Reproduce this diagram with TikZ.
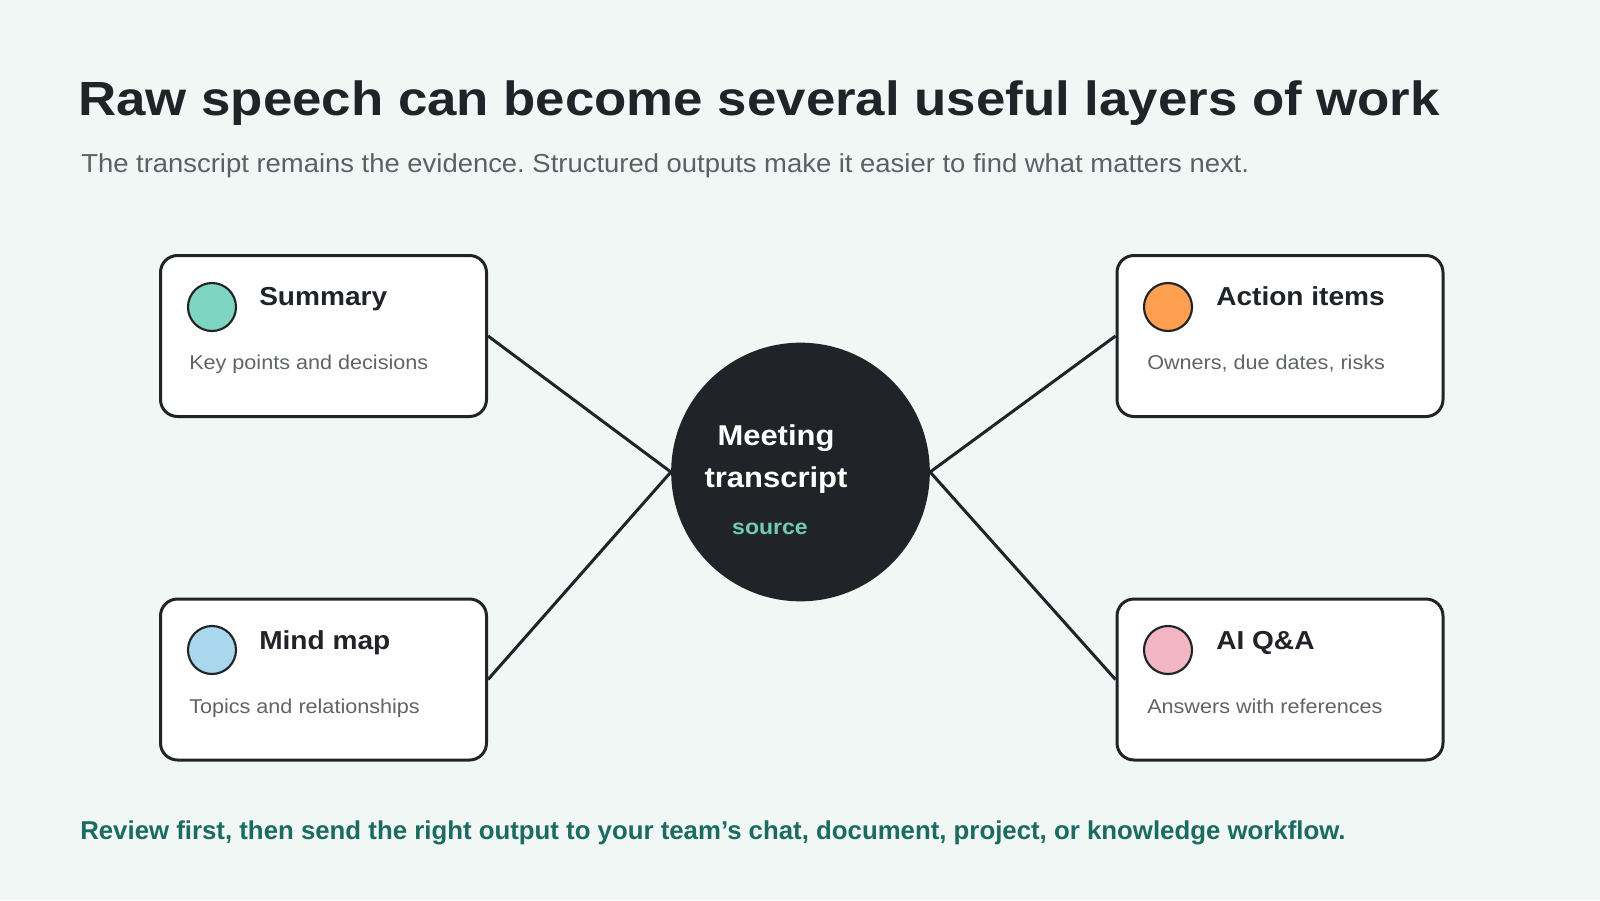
\documentclass[tikz,border=0pt]{standalone}
\usepackage{fontspec}
\setmainfont{Liberation Sans}[FakeStretch=1.08]
\newfontfamily\headfont{Liberation Sans}[FakeStretch=1.1]
\newfontfamily\subfont{Liberation Sans}[FakeStretch=1.055]
\newfontfamily\footfont{Liberation Sans}
\frenchspacing
\definecolor{bgc}{HTML}{F1F7F4}
\definecolor{ink}{HTML}{202428}
\definecolor{subgrey}{HTML}{5A6166}
\definecolor{descgrey}{HTML}{5F6468}
\definecolor{deepteal}{HTML}{1B6B60}
\definecolor{srcteal}{HTML}{70CCB2}
\definecolor{dotteal}{HTML}{7DD5C2}
\definecolor{dotorange}{HTML}{FF9F50}
\definecolor{dotblue}{HTML}{A9D8EE}
\definecolor{dotpink}{HTML}{F2B6C4}

\begin{document}
\begin{tikzpicture}[x=0.75pt, y=-0.75pt,
    card/.style={draw=ink, line width=2.25pt, fill=white, rounded corners=12.75pt, minimum width=244.5pt, minimum height=120.75pt, inner sep=0pt},
    dot/.style={circle, draw=ink, line width=1.6pt, minimum size=36pt, inner sep=0pt},
    ttl/.style={anchor=base west, inner sep=0pt, text=ink, font=\fontsize{19.5}{23}\selectfont\bfseries},
    dsc/.style={anchor=base west, inner sep=0pt, text=descgrey, font=\fontsize{15}{18}\selectfont},
    link/.style={draw=ink, line width=2.25pt}
]
\fill[bgc] (0,0) rectangle (1600,900);
\useasboundingbox (0,0) rectangle (1600,900);

% heading
\node[anchor=base west, inner sep=0pt, text=ink, font=\headfont\fontsize{36}{42}\selectfont\bfseries] (head) at (78,115) {Raw speech can become several useful layers of work};
\node[anchor=base west, inner sep=0pt, text=subgrey, font=\subfont\fontsize{19.5}{23}\selectfont] (sub) at (81,172) {The transcript remains the evidence. Structured outputs make it easier to find what matters next.};

% centre
\node[circle, fill=ink, minimum size=194pt, inner sep=0pt] (core) at (800.5,472) {};
\node[anchor=base, inner sep=0pt, text=white, font=\fontsize{21.5}{25}\selectfont\bfseries] (coretop) at (776,445) {Meeting};
\node[anchor=base, inner sep=0pt, text=white, font=\fontsize{21.5}{25}\selectfont\bfseries] (corebot) at (776,487) {transcript};
\node[anchor=base, inner sep=0pt, text=srcteal, font=\fontsize{16}{19}\selectfont\bfseries] (coresrc) at (770,534) {source};

% cards
\node[card] (sum) at (323.5,336) {};
\node[card] (act) at (1280,336) {};
\node[card] (mind) at (323.5,679.5) {};
\node[card] (qa) at (1280,679.5) {};

\node[dot, fill=dotteal] (sumdot) at (212,307) {};
\node[ttl] (sumttl) at (259,305) {Summary};
\node[dsc] (sumdsc) at (189,369) {Key points and decisions};

\node[dot, fill=dotorange] (actdot) at (1168,307) {};
\node[ttl] (actttl) at (1216,305) {Action items};
\node[dsc] (actdsc) at (1147,369) {Owners, due dates, risks};

\node[dot, fill=dotblue] (minddot) at (212,650) {};
\node[ttl] (mindttl) at (259,649) {Mind map};
\node[dsc] (minddsc) at (189,713) {Topics and relationships};

\node[dot, fill=dotpink] (qadot) at (1168,650) {};
\node[ttl] (qattl) at (1216,649) {AI Q\&A};
\node[dsc] (qadsc) at (1147,713) {Answers with references};

% links
\draw[link] (sum.east) -- (core.west);
\draw[link] (mind.east) -- (core.west);
\draw[link] (act.west) -- (core.east);
\draw[link] (qa.west) -- (core.east);

% footer
\node[anchor=base west, inner sep=0pt, text=deepteal, font=\footfont\fontsize{19.35}{23}\selectfont\bfseries] (foot) at (80,839) {Review first, then send the right output to your team’s chat, document, project, or knowledge workflow.};
\end{tikzpicture}
\end{document}
